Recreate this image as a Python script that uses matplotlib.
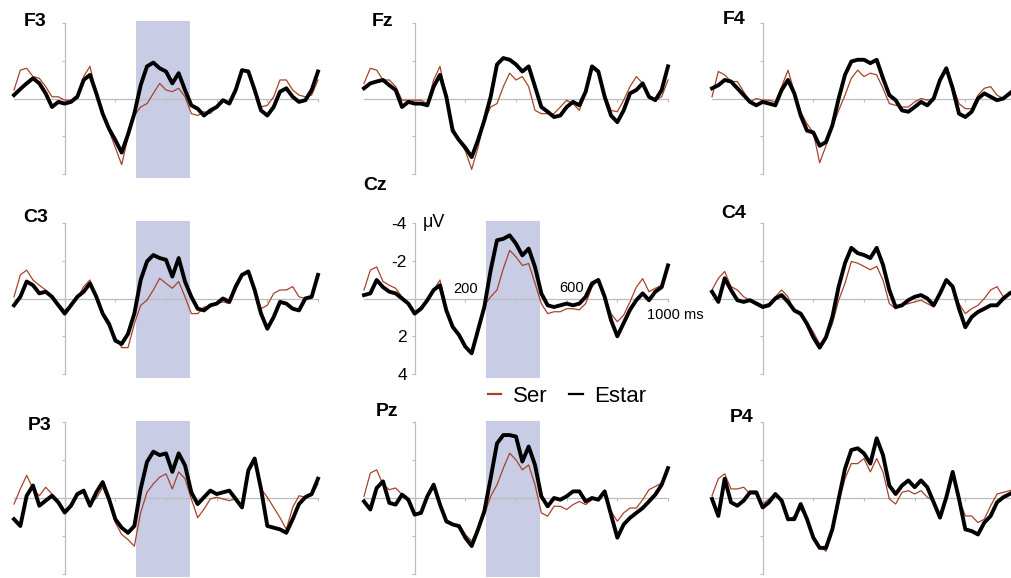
import numpy as np
import matplotlib
matplotlib.use("Agg")
import matplotlib.pyplot as plt
from matplotlib.lines import Line2D

plt.rcParams['font.family'] = ['Liberation Sans', 'DejaVu Sans']

W, H = 1011, 578

# sample times (ms), one reading every 25 ms
times = list(range(-200, 1001, 25))

# voltages in microvolts (negative plotted upward)
f3_estar = [-0.18, -0.5, -0.8, -1.07, -0.8, -0.27, 0.45, 0.18, 0.27, 0.18,
            -0.09, -0.98, -1.25, -0.27, 0.8, 1.6, 2.2, 2.86, 1.9, 0.8,
            -0.7, -1.7, -1.9, -1.6, -1.43, -0.8, -1.34, -0.45, 0.36, 0.54,
            0.9, 0.63, 0.45, 0.09, 0.27, -0.45, -1.5, -1.43, -0.45, 0.63,
            0.9, 0.45, -0.36, -0.54, -0.09, 0.18, 0.09, -0.45, -1.43]
f3_ser = [-0.45, -1.5, -1.6, -1.16, -1.07, -0.63, -0.09, -0.09, 0.09, 0.09,
          -0.18, -1.16, -1.7, -0.27, 0.8, 1.7, 2.6, 3.5, 2.05, 0.9,
          0.45, 0.27, -0.27, -0.8, -0.45, -0.36, -0.54, -0.09, 0.8, 0.9,
          0.7, 0.8, 0.45, 0.18, 0.18, -0.45, -1.43, -1.5, -0.54, 0.45,
          0.36, -0.09, -0.98, -0.98, -0.45, -0.18, -0.09, -0.18, -0.98]
fz_estar = [-0.54, -0.8, -0.9, -0.98, -0.7, -0.45, 0.45, 0.18, 0.27, 0.27,
            0.36, -0.63, -1.25, -0.09, 1.7, 2.2, 2.6, 3.1, 2.2, 1.16,
            -0.09, -1.8, -2.14, -2.05, -1.8, -1.43, -1.7, -0.63, 0.45, 0.7,
            0.98, 0.9, 0.45, 0.18, 0.36, -0.36, -1.7, -1.43, -0.09, 0.9,
            1.25, 0.63, -0.27, -0.45, -0.8, -0.09, 0.09, -0.45, -1.7]
fz_ser = [-0.8, -1.6, -1.5, -0.98, -0.98, -0.63, 0.09, 0.09, 0.09, 0.09,
          0.27, -0.98, -1.7, -0.09, 1.5, 2.2, 2.77, 3.75, 2.6, 1.16,
          0.45, 0.27, -0.63, -1.34, -0.98, -1.16, -0.63, 0.63, 0.8, 0.8,
          0.8, 0.45, 0.09, 0.27, 0.63, -0.27, -1.6, -1.34, -0.27, 0.63,
          0.7, 0.09, -0.63, -1.16, -0.8, -0.09, 0.09, -0.09, -0.98]
f4_estar = [-0.54, -0.7, -0.98, -0.9, -0.54, -0.18, 0.18, 0.36, 0.18, 0.27,
            0.36, -0.45, -0.98, -0.27, 0.9, 1.7, 1.8, 2.5, 2.3, 1.43,
            0.0, -1.25, -1.96, -2.05, -2.05, -1.87, -2.05, -1.07, -0.18, 0.09,
            0.63, 0.7, 0.45, 0.18, 0.36, 0.0, -0.98, -1.6, -0.54, 0.8,
            0.98, 0.7, 0.0, -0.27, -0.09, 0.09, 0.0, -0.27, -0.54]
f4_ser = [-0.09, -1.43, -1.25, -0.9, -0.9, -0.36, 0.18, 0.0, 0.09, 0.09,
          0.18, -0.63, -1.5, -0.36, 0.7, 1.34, 1.8, 3.4, 2.5, 1.5,
          0.63, -0.18, -1.07, -1.5, -1.16, -1.34, -1.25, -0.54, 0.27, 0.36,
          0.45, 0.45, 0.18, 0.0, 0.09, 0.0, -0.9, -1.5, -0.7, 0.27,
          0.54, 0.54, -0.18, -0.54, -0.63, -0.18, 0.0, -0.18, -0.36]
c3_estar = [0.36, -0.09, -0.9, -0.7, -0.27, -0.36, -0.09, 0.36, 0.8, 0.36,
            -0.09, -0.36, -0.8, -0.09, 0.8, 1.34, 2.23, 2.4, 1.87, 0.8,
            -0.98, -1.96, -2.3, -2.14, -2.05, -1.16, -2.14, -0.9, -0.09, 0.54,
            0.63, 0.36, 0.27, 0.0, 0.18, -0.63, -1.25, -1.43, -0.45, 0.8,
            1.6, 0.98, 0.18, 0.27, 0.54, 0.63, 0.0, -0.09, -1.25]
c3_ser = [-0.09, -1.25, -1.5, -0.98, -0.7, -0.45, -0.09, 0.27, 0.63, 0.36,
          0.0, -0.63, -0.98, -0.09, 0.9, 1.5, 2.05, 2.6, 2.6, 1.34,
          0.36, 0.09, -0.45, -1.07, -0.8, -0.54, -0.9, -0.09, 0.8, 0.8,
          0.45, 0.45, 0.27, 0.18, 0.27, -0.45, -1.25, -1.34, -0.45, 0.54,
          0.36, -0.27, -0.45, -0.45, -0.63, -0.09, 0.0, -0.09, -1.25]
cz_estar = [-0.18, -0.27, -0.98, -0.6, -0.36, -0.27, 0.0, 0.27, 0.8, 0.54,
            0.09, -0.45, -0.7, 0.63, 1.5, 1.93, 2.55, 2.9, 1.67, 0.45,
            -1.5, -3.08, -3.16, -3.34, -2.9, -2.28, -2.64, -1.67, -0.27, 0.36,
            0.45, 0.36, 0.27, 0.36, 0.27, -0.09, -0.8, -0.98, -0.09, 1.14,
            2.0, 1.3, 0.6, 0.09, -0.27, 0.09, -0.36, -0.6, -1.75]
cz_ser = [-0.45, -1.5, -1.67, -0.9, -0.7, -0.54, -0.09, 0.27, 0.7, 0.45,
          0.09, -0.45, -0.98, 0.54, 1.5, 2.0, 2.55, 2.9, 1.5, 0.36,
          -0.09, -0.45, -1.58, -2.55, -2.2, -1.75, -1.85, -0.8, 0.27, 0.8,
          0.7, 0.7, 0.54, 0.54, 0.6, 0.27, -0.6, -1.05, -0.09, 0.8,
          1.23, 0.88, 0.18, -0.6, -1.05, -0.36, -0.54, -0.7, -1.67]
c4_estar = [-0.36, 0.18, -1.07, -0.45, 0.09, 0.18, 0.09, 0.27, 0.45, 0.36,
            0.0, -0.18, 0.18, 0.63, 0.8, 1.34, 2.05, 2.6, 2.05, 0.98,
            -0.63, -1.87, -2.68, -2.4, -2.3, -2.14, -2.68, -1.78, -0.45, 0.45,
            0.36, 0.09, -0.09, -0.18, 0.0, 0.36, -0.27, -0.98, -0.63, 0.54,
            1.52, 0.98, 0.71, 0.54, 0.36, 0.36, 0.0, -0.27, -0.45]
c4_ser = [-0.45, -1.07, -1.43, -0.63, -0.45, -0.09, 0.09, 0.18, 0.36, 0.27,
          -0.09, -0.45, -0.09, 0.7, 0.9, 1.25, 1.78, 2.4, 2.14, 1.34,
          0.09, -0.8, -1.96, -1.87, -1.7, -1.52, -1.7, -0.98, 0.27, 0.54,
          0.36, 0.27, 0.18, 0.09, 0.27, 0.45, -0.18, -0.9, -0.63, 0.27,
          0.8, 0.54, 0.36, 0.0, -0.45, -0.63, -0.09, -0.27, -0.45]
p3_estar = [1.12, 1.48, -0.12, -0.66, 0.41, 0.14, -0.12, 0.23, 0.77, 0.41,
            -0.21, -0.39, 0.41, -0.3, -0.84, 0.05, 1.12, 1.57, 1.84, 1.48,
            -0.48, -1.91, -2.45, -2.27, -2.36, -1.38, -2.36, -1.73, -0.3, 0.32,
            -0.04, -0.39, -0.21, -0.3, -0.39, 0.05, 0.5, -1.46, -2.09, -0.48,
            1.48, 1.57, 1.66, 1.84, 1.12, 0.32, -0.04, -0.21, -1.02]
p3_ser = [0.32, -0.48, -1.2, -0.48, -0.12, -0.57, -0.21, 0.14, 0.68, 0.32,
          -0.12, -0.3, 0.32, 0.0, -0.57, 0.23, 1.3, 1.93, 2.2, 2.55,
          0.77, -0.3, -0.75, -1.1, -1.28, -0.48, -1.38, -1.02, 0.05, 1.04,
          0.59, 0.05, -0.04, 0.05, 0.14, 0.05, 0.41, -1.38, -1.91, -0.48,
          -0.04, 0.5, 1.04, 1.66, 0.5, -0.12, -0.04, -0.12, -0.75]
pz_estar = [0.18, 0.61, -0.53, -0.88, 0.26, 0.35, -0.18, 0.09, 0.88, 0.79,
            -0.09, -0.7, 0.35, 1.23, 1.4, 1.49, 2.1, 2.54, 1.67, 0.7,
            -1.05, -2.89, -3.33, -3.33, -3.25, -1.93, -2.72, -1.75, -0.09, 0.44,
            0.0, 0.09, -0.09, -0.35, -0.35, 0.18, 0.0, 0.09, -0.35, 0.88,
            2.1, 1.4, 1.05, 0.79, 0.53, 0.18, -0.18, -0.7, -1.58]
pz_ser = [-0.09, -1.32, -1.49, -0.7, -0.44, -0.53, -0.18, 0.18, 0.88, 0.7,
          -0.18, -0.79, 0.35, 1.32, 1.4, 1.4, 1.93, 2.28, 1.67, 0.88,
          -0.09, -0.7, -1.58, -2.37, -2.02, -1.49, -1.75, -0.7, 0.79, 0.96,
          0.44, 0.44, 0.61, 0.35, 0.18, 0.35, 0.09, 0.0, -0.26, 0.7,
          1.23, 0.79, 0.53, 0.53, 0.09, -0.44, -0.61, -0.79, -1.49]
p4_estar = [0.05, 0.95, -1.02, 0.23, 0.41, 0.14, -0.3, -0.3, 0.5, 0.23,
            -0.21, 0.14, 1.12, 1.12, 0.32, 1.12, 2.1, 2.64, 2.64, 1.66,
            0.05, -1.55, -2.54, -2.63, -2.36, -1.82, -3.16, -2.27, -0.66, -0.21,
            -0.66, -0.93, -0.57, -0.93, -0.57, 0.23, 1.04, -0.04, -1.38, 0.05,
            1.66, 1.75, 1.93, 1.3, 0.95, 0.23, -0.04, -0.21, -0.39]
p4_ser = [-0.12, -1.02, -1.28, -0.48, -0.48, -0.57, -0.21, -0.21, 0.32, 0.05,
          -0.21, 0.23, 1.21, 0.95, 0.59, 1.12, 2.02, 2.55, 2.82, 1.75,
          0.23, -1.02, -1.82, -1.82, -2.09, -1.38, -2.09, -1.38, 0.05, 0.32,
          -0.3, -0.39, -0.21, -0.39, -0.04, 0.14, 0.86, -0.12, -1.28, 0.05,
          0.95, 0.95, 1.3, 1.12, 0.41, -0.21, -0.3, -0.39, -0.48]

electrodes = [["F3", "Fz", "F4"], ["C3", "Cz", "C4"], ["P3", "Pz", "P4"]]
ser = {"F3": f3_ser, "Fz": fz_ser, "F4": f4_ser, "C3": c3_ser, "Cz": cz_ser,
       "C4": c4_ser, "P3": p3_ser, "Pz": pz_ser, "P4": p4_ser}
estar = {"F3": f3_estar, "Fz": fz_estar, "F4": f4_estar, "C3": c3_estar,
         "Cz": cz_estar, "C4": c4_estar, "P3": p3_estar, "Pz": pz_estar,
         "P4": p4_estar}
shaded = ["F3", "C3", "Cz", "P3", "Pz"]
shade_window = (280, 495)  # ms

SER_COLOR = "#a8432b"
ESTAR_COLOR = "black"
SHADE_COLOR = "#c8cde5"
AXIS_COLOR = "#bdbdbd"

# layout in pixels
col_x = [14, 364, 712]         # x pixel of -200 ms
row_zero = [98.5, 298.5, 498]  # y pixel of 0 uV
px_ms = 304 / 1200
px_uv = 18.9
YLIM = 4.3

label_pos = {"F3": (24, 22), "Fz": (372, 22), "F4": (723, 20),
             "C3": (23, 217), "Cz": (363, 185), "C4": (721, 214),
             "P3": (28, 425), "Pz": (376, 412), "P4": (730, 418)}

fig = plt.figure(figsize=(W / 100, H / 100), dpi=100)

for r, row in enumerate(electrodes):
    for c, name in enumerate(row):
        left = col_x[c] / W
        width = 1200 * px_ms / W
        height = 2 * YLIM * px_uv / H
        bottom = (H - (row_zero[r] + YLIM * px_uv)) / H
        ax = fig.add_axes([left, bottom, width, height])
        ax.set_xlim(-200, 1000)
        ax.set_ylim(YLIM, -YLIM)
        ax.patch.set_alpha(0)

        if name in shaded:
            ax.fill_between(shade_window, -4.1, 4.2, color=SHADE_COLOR,
                            lw=0, zorder=1)

        for s in ["top", "right"]:
            ax.spines[s].set_visible(False)
        ax.spines["left"].set_position(("data", 0))
        ax.spines["left"].set_bounds(-4, 4)
        ax.spines["bottom"].set_position(("data", 0))
        ax.spines["bottom"].set_bounds(-200, 1000)
        for s in ["left", "bottom"]:
            ax.spines[s].set_color(AXIS_COLOR)
            ax.spines[s].set_linewidth(0.9)
            ax.spines[s].set_zorder(1.5)
        ax.set_yticks([-4, -2, 0, 2, 4])
        ax.set_xticks([0, 200, 400, 600, 800, 1000])
        ax.tick_params(axis="both", length=2.5, width=0.8, color=AXIS_COLOR,
                       direction="out")
        ax.set_xticklabels([])

        if name == "Cz":
            ax.set_yticklabels(["-4", "-2", "", "2", "4"], fontsize=12.5)
            ax.tick_params(axis="y", pad=3)
            ax.text(30, -4, "\u03bcV", fontsize=13, va="center", ha="left")
            ax.text(200, -0.15, "200", fontsize=10.5, ha="center",
                    va="bottom")
            ax.text(620, -0.2, "600", fontsize=10.5, ha="center",
                    va="bottom")
            ax.text(917, 0.85, "1000 ms", fontsize=10.5, ha="left",
                    va="center")
        else:
            ax.set_yticklabels([])

        ax.plot(times, ser[name], color=SER_COLOR, lw=0.9, zorder=3,
                clip_on=False)
        ax.plot(times, estar[name], color=ESTAR_COLOR, lw=2.8, zorder=4,
                clip_on=False, solid_joinstyle="round")

        lx, ly = label_pos[name]
        fig.text(lx / W, 1 - ly / H, name, fontsize=14, fontweight="bold",
                 ha="left", va="center")

handles = [Line2D([], [], color=SER_COLOR, lw=1.6),
           Line2D([], [], color=ESTAR_COLOR, lw=1.6)]
fig.legend(handles, ["Ser", "Estar"], loc="center",
           bbox_to_anchor=(567 / W, 1 - 396 / H), ncol=2, frameon=False,
           fontsize=16, handlelength=0.6, handletextpad=0.5,
           columnspacing=1.0)

fig.savefig("out.png", dpi=100)
